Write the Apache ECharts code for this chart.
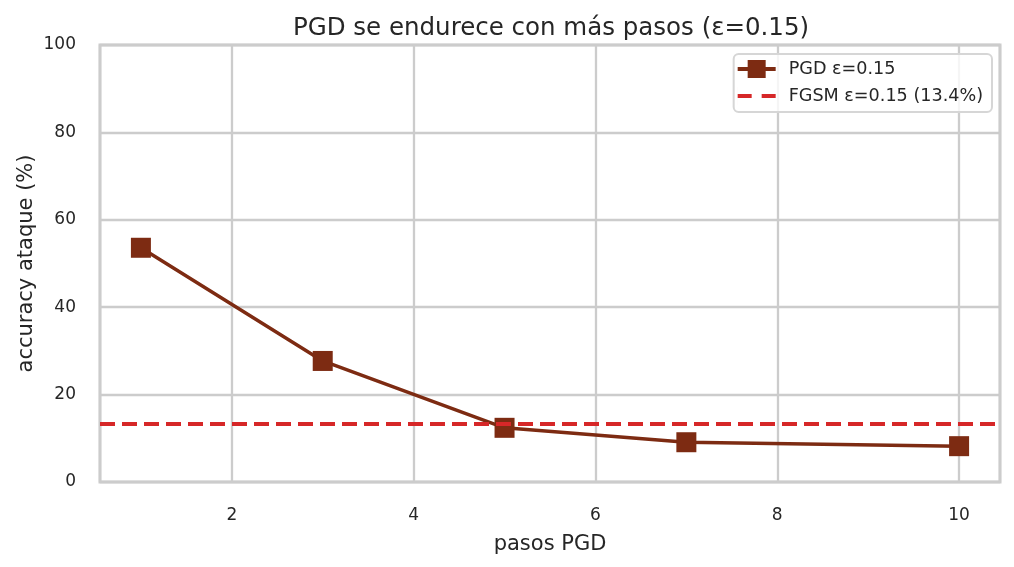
<!DOCTYPE html>
<html>
<head>
<meta charset="utf-8">
<script src="https://cdn.jsdelivr.net/npm/echarts@6/dist/echarts.min.js"></script>
<style>
  html, body { margin: 0; padding: 0; background: #fff; }
  #chart { width: 1014px; height: 567px; }
</style>
</head>
<body>
<div id="chart"></div>
<script>
// datos
const pasos = [1, 3, 5, 7, 10];
const accPGD = [53.6, 27.7, 12.4, 9.1, 8.2];
const accFGSM = 13.4;
const yTicks = [0, 20, 40, 60, 80, 100];
const xTicks = [2, 4, 6, 8, 10];

const xMin = 0.55, xMax = 10.45;
const fuente = 'DejaVu Sans';
const gris = '#262626';
const marron = '#7d2b12';
const rojo = '#d62728';

// iconos de leyenda: línea con cuadrado, y línea discontinua
const iconoPGD = 'path://M0,7H10V0H28V7H38V11H28V18H10V11H0Z';
const iconoFGSM = 'path://M0,7H14V11H0Z M24,7H38V11H24Z M0,0H0.01V18H0Z';

const chart = echarts.init(document.getElementById('chart'));

const option = {
    backgroundColor: '#fff',
    animation: false,
    title: {
        text: 'PGD se endurece con más pasos (ε=0.15)',
        left: 546,
        top: 11,
        textAlign: 'center',
        textStyle: { fontFamily: fuente, fontSize: 24.5, fontWeight: 'normal', color: gris }
    },
    grid: {
        left: 100, right: 14, top: 45, bottom: 85,
        show: true,
        borderColor: '#cccccc',
        borderWidth: 3,
        backgroundColor: '#fff'
    },
    legend: {
        orient: 'vertical',
        right: 22,
        top: 54,
        padding: [6, 9, 7, 4],
        itemWidth: 38,
        itemHeight: 18,
        itemGap: 9,
        backgroundColor: 'rgba(255,255,255,0.8)',
        borderColor: '#d6d6d6',
        borderWidth: 2,
        borderRadius: 5,
        textStyle: { fontFamily: fuente, fontSize: 17.6, color: gris, padding: [0, 0, 0, 8] },
        data: [
            { name: 'PGD ε=0.15', icon: iconoPGD, itemStyle: { color: marron, borderWidth: 0 } },
            { name: 'FGSM ε=0.15 (13.4%)', icon: iconoFGSM, itemStyle: { color: rojo, borderWidth: 0 } }
        ]
    },
    xAxis: {
        type: 'value',
        min: xMin,
        max: xMax,
        splitNumber: 5,
        name: 'pasos PGD',
        nameLocation: 'middle',
        nameGap: 52,
        nameMoveOverlap: false,
        nameTextStyle: { fontFamily: fuente, fontSize: 21, color: gris },
        axisLine: { show: false },
        axisTick: { show: false },
        axisLabel: {
            fontFamily: fuente, fontSize: 17, color: gris, margin: 25,
            showMinLabel: false, showMaxLabel: false,
            formatter: v => xTicks.includes(v) ? String(v) : ''
        },
        splitLine: { show: true, lineStyle: { color: '#cccccc', width: 2.3 } }
    },
    yAxis: {
        type: 'value',
        min: yTicks[0],
        max: yTicks[yTicks.length - 1],
        interval: 20,
        name: 'accuracy ataque (%)',
        nameLocation: 'middle',
        nameGap: 63,
        nameMoveOverlap: false,
        nameTextStyle: { fontFamily: fuente, fontSize: 21, color: gris },
        axisLine: { show: false },
        axisTick: { show: false },
        axisLabel: { fontFamily: fuente, fontSize: 17, color: gris, margin: 24 },
        splitLine: { show: true, lineStyle: { color: '#cccccc', width: 2.3 } }
    },
    series: [
        {
            name: 'PGD ε=0.15',
            type: 'line',
            data: pasos.map((p, i) => [p, accPGD[i]]),
            symbol: 'rect',
            symbolSize: 20,
            color: marron,
            lineStyle: { width: 3.5, color: marron },
            itemStyle: { color: marron },
            z: 3
        },
        {
            name: 'FGSM ε=0.15 (13.4%)',
            type: 'line',
            data: [],
            symbol: 'none',
            color: rojo,
            lineStyle: { width: 4, color: rojo, type: [15, 7] },
            markLine: {
                silent: true,
                symbol: 'none',
                label: { show: false },
                lineStyle: { width: 4, color: rojo, type: [15, 7] },
                data: [{ yAxis: accFGSM }]
            },
            z: 4
        }
    ]
};

chart.setOption(option);
</script>
</body>
</html>
